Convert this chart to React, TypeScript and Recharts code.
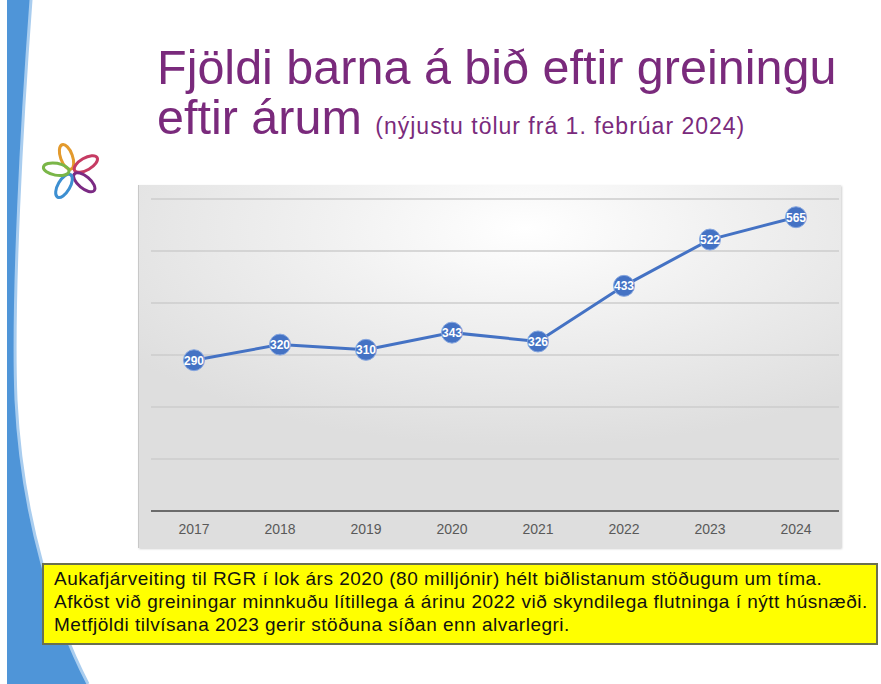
import { LineChart, Line, XAxis, YAxis, CartesianGrid, LabelList } from 'recharts';

const years = ['2017', '2018', '2019', '2020', '2021', '2022', '2023', '2024'];
const waiting = [290, 320, 310, 343, 326, 433, 522, 565];
const yTicks = [0, 100, 200, 300, 400, 500, 600];

const noteLines = [
  'Aukafjárveiting til RGR í lok árs 2020 (80 milljónir) hélt biðlistanum stöðugum um tíma.',
  'Afköst við greiningar minnkuðu lítillega á árinu 2022 við skyndilega flutninga í nýtt húsnæði.',
  'Metfjöldi tilvísana 2023 gerir stöðuna síðan enn alvarlegri.',
];

const chartData = years.map((year, i) => ({ year, value: waiting[i] }));

const FONT = '"Liberation Sans", Arial, sans-serif';
const PURPLE = '#7a2a7c';
const LINE_BLUE = '#4472C4';

function PointLabel(props: any) {
  const { x, y, value } = props;
  return (
    <text
      x={x}
      y={y}
      dy={4.5}
      textAnchor="middle"
      fill="#ffffff"
      fontSize={12}
      fontWeight="bold"
      fontFamily={FONT}
    >
      {value}
    </text>
  );
}

function Logo() {
  // small petal flower in the top-left corner
  const petals = [
    { color: '#e39a2d', angle: -20 },
    { color: '#c63b63', angle: 60 },
    { color: '#7b2a83', angle: 130 },
    { color: '#3d8fd1', angle: 210 },
    { color: '#7ab648', angle: 280 },
  ];
  return (
    <svg width={70} height={70} style={{ position: 'absolute', left: 37, top: 137 }}>
      {petals.map((p) => (
        <ellipse
          key={p.color}
          cx={35}
          cy={19}
          rx={6}
          ry={13}
          fill="none"
          stroke={p.color}
          strokeWidth={3}
          transform={`rotate(${p.angle} 35 35)`}
        />
      ))}
    </svg>
  );
}

export default function App() {
  return (
    <div
      style={{
        position: 'absolute',
        left: 0,
        top: 0,
        width: 881,
        height: 684,
        background: '#ffffff',
        overflow: 'hidden',
        fontFamily: FONT,
      }}
    >
      <svg width={881} height={684} style={{ position: 'absolute', left: 0, top: 0 }}>
        <path
          d="M7 0 L31 0 C 22 120, 12 300, 16 400 C 22 520, 55 620, 88 684 L7 684 Z"
          fill="#4f95d8"
        />
        <path
          d="M31 0 C 22 120, 12 300, 16 400 C 22 520, 55 620, 88 684"
          fill="none"
          stroke="#a9cdef"
          strokeWidth={3}
        />
      </svg>

      <Logo />

      <div
        style={{
          position: 'absolute',
          left: 157,
          top: 42,
          color: PURPLE,
          fontSize: 48.5,
          lineHeight: '50px',
          whiteSpace: 'nowrap',
        }}
      >
        <div>Fjöldi barna á bið eftir greiningu</div>
        <div>
          eftir árum{' '}
          <span style={{ fontSize: 23, letterSpacing: 1 }}>(nýjustu tölur frá 1. febrúar 2024)</span>
        </div>
      </div>

      <div
        style={{
          position: 'absolute',
          left: 138,
          top: 185,
          width: 702,
          height: 363,
          background:
            'radial-gradient(ellipse 70% 60% at 55% 12%, #ffffff 0%, #f1f1f1 40%, #dedede 100%)',
          borderLeft: '1px solid #c8c8c8',
          boxShadow: '1px 1px 2px #cfcfcf',
        }}
      >
        <LineChart
          width={702}
          height={363}
          data={chartData}
          margin={{ top: 14, right: 2, bottom: 7, left: 12 }}
        >
          <CartesianGrid vertical={false} stroke="#cdcdcd" strokeWidth={1.5} />
          <XAxis
            dataKey="year"
            padding={{ left: 43, right: 43 }}
            axisLine={{ stroke: '#6b6b6b', strokeWidth: 2 }}
            tickLine={false}
            tickMargin={7}
            height={30}
            tick={{ fill: '#595959', fontSize: 14, fontFamily: FONT }}
          />
          <YAxis hide domain={[0, 600]} ticks={yTicks} />
          <Line
            type="linear"
            dataKey="value"
            stroke={LINE_BLUE}
            strokeWidth={3}
            dot={{ r: 10.5, fill: LINE_BLUE, stroke: '#86a6df', strokeWidth: 1 }}
            isAnimationActive={false}
          >
            <LabelList dataKey="value" content={PointLabel} />
          </Line>
        </LineChart>
      </div>

      <div
        style={{
          position: 'absolute',
          left: 42,
          top: 563,
          width: 836,
          height: 82,
          boxSizing: 'border-box',
          padding: '2px 4px 4px 10px',
          background: '#ffff00',
          border: '2px solid #6a7050',
          color: '#111111',
          fontSize: 19,
          letterSpacing: 0.5,
          lineHeight: '23px',
          whiteSpace: 'nowrap',
        }}
      >
        {noteLines.map((t) => (
          <div key={t}>{t}</div>
        ))}
      </div>
    </div>
  );
}
